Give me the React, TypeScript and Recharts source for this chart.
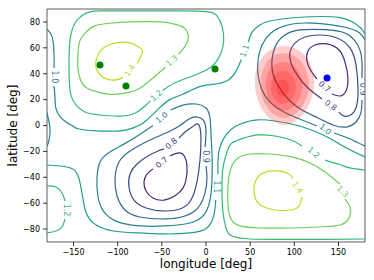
import { ScatterChart, Scatter, XAxis, YAxis, ReferenceArea } from "recharts";

const FONT = "DejaVu Sans, sans-serif";

// viridis colours for the contour levels (norm 0.6 .. 1.5)
const LEVEL_COLORS: Record<string, string> = {
  "0.7": "#482878",
  "0.8": "#3e4989",
  "0.9": "#31688e",
  "1.0": "#26828e",
  "1.1": "#1f9e89",
  "1.2": "#35b779",
  "1.3": "#6ece58",
  "1.4": "#b5de2b",
};

const X_TICKS = [-150, -100, -50, 0, 50, 100, 150];
const Y_TICKS = [-80, -60, -40, -20, 0, 20, 40, 60, 80];

type Pt = [number, number];

// contour paths, [lon, lat] (gaps are where labels sit)
const L14_NW: Pt[] = [[-78, 48], [-74, 53], [-72, 58], [-77, 61], [-87, 64], [-100, 64], [-111, 62], [-119, 58], [-123, 53], [-125, 47], [-122, 41], [-116, 37], [-105, 35], [-94, 37]];
const L13_NW: Pt[] = [[-31, 55], [-24, 61], [-20, 68], [-24, 75], [-34, 78], [-52, 80], [-86, 80], [-109, 79], [-126, 77], [-136, 72], [-143, 65], [-145, 54], [-145, 44], [-142, 35], [-135, 29], [-123, 26], [-109, 24], [-92, 25], [-77, 28], [-63, 35], [-46, 45]];
const L12_NW: Pt[] = [[-49, 27], [-35, 33], [-18, 37.5], [-7, 40.5], [7, 46], [16, 54.5], [20, 65], [18, 77], [12, 85], [1, 88], [-30, 88.5], [-63, 88.5], [-90, 88.5], [-120, 88.5], [-135, 87], [-146, 81.5], [-153, 70], [-155, 54.5], [-155, 39], [-153, 23.6], [-147, 15.8], [-137, 10.4], [-120, 8.1], [-97, 7.3], [-80, 9.7], [-69, 15.1], [-63, 19]];
const L11_N_A: Pt[] = [[-150.6, -0.4], [-143.8, -2.7], [-124.5, -4.2], [-110, -4.4], [-97, -4.2], [-83, -2], [-71, 2], [-61, 8], [-52, 14], [-41, 20], [-27, 24], [-7, 30], [10, 32], [25, 35], [34, 42], [40, 51]];
const L11_N_B: Pt[] = [[48, 64.5], [52, 72], [61, 77.6], [78, 81.5], [118, 84], [150, 83.5], [166, 80], [175, 75.5], [180, 71]];
const L11_S_A: Pt[] = [[-180, -30.5], [-165, -31.3], [-151, -33.6], [-144, -40.6], [-140, -53.7], [-136, -66.8], [-126, -76.1], [-105, -81.5], [-75, -83], [-46, -83.8], [-18, -83], [1, -79.2], [9, -69], [11, -57.6]];
const L11_S_B: Pt[] = [[13.6, -37.5], [13.6, -26.7], [15.8, -16.6], [22.6, -7.3], [34, -0.4], [55.5, 4.2], [78, 3.5], [106, -0.4], [135, -8.1], [157, -16.6], [180, -24.3]];
const L10_W_A: Pt[] = [[-180, 74.5], [-175.5, 70.7], [-173, 64.5], [-172, 54.5], [-172, 44.4]];
const L10_W_B: Pt[] = [[-172, 30.5], [-171, 22], [-170, 13.5], [-165, 6.6], [-158.5, 2.7], [-150.6, -0.4]];
const L10_W_C: Pt[] = [[-180, 10], [-177.5, 2], [-176.5, -5], [-178, -12], [-180, -16]];
const L10_E_A: Pt[] = [[180, 66], [174, 71.5], [160, 75.5], [140, 78], [112, 79.2], [89, 77], [73.6, 71.5], [63.4, 62.2], [59, 50.6], [59, 39], [63.4, 27.4], [72.4, 18.1], [88.3, 10.4], [108.7, 4.2], [125.7, -0.4]];
const L10_E_B: Pt[] = [[145, -5.8], [160.7, -9.7], [180, -16]];
const L10_SW: Pt[] = [[-40, 12], [-26, 15.8], [-11.3, 16.6], [0, 13.5], [4.5, 5.8], [5.7, -7.3], [6.8, -22.8], [6.8, -42.1], [4.5, -57.6], [-2.3, -69.1], [-18.1, -75.3], [-46.4, -77.6], [-74.7, -77.6], [-99.6, -74.5], [-115.5, -66.8], [-122.4, -54.5], [-123.4, -40.6], [-120, -28.2], [-110, -21], [-92, -14], [-75, -7], [-60, 0]];
const L09_SW: Pt[] = [[-1.1, -16.6], [0, -5], [-1.1, 1.5], [-4.5, 5], [-11.3, 6.6], [-19.2, 5], [-29.4, 0], [-43, -5], [-63.4, -11.2], [-86, -19.7], [-98.5, -28.2], [-103, -40.6], [-100.7, -54.5], [-91.7, -65.3], [-74.7, -70.7], [-46.4, -72.2], [-23.8, -69.9], [-9.1, -63.7], [-1.1, -52.1], [1.1, -40.6], [0, -31.3]];
const L08_SW: Pt[] = [[-30.6, -9.7], [-22.6, -4.5], [-15.8, -1.2], [-10.2, 1.2], [-6.8, -1.9], [-5.7, -11.2], [-6.8, -26.7], [-10.2, -43.6], [-17, -57.6], [-29.4, -64.5], [-48.7, -66], [-67.9, -63.7], [-81.5, -57.6], [-87.2, -47.5], [-86, -37.5], [-78.1, -29.7], [-65.7, -23.6], [-54.3, -19.7], [-47.5, -18.1]];
const L07_SW: Pt[] = [[-40.8, -23.6], [-29.4, -21.2], [-22.6, -26.7], [-21.5, -35.9], [-24.9, -46.7], [-34, -53.7], [-47.5, -57.6], [-60, -56], [-67.9, -50.6], [-70.2, -43.6], [-66.8, -37.5], [-60, -33.6]];
const L09_NE: Pt[] = [[176.6, 19.7], [175.5, 10.4], [169.8, 2.7], [158.5, -1.2], [143.8, 0.4], [126.8, 5.8], [108.7, 12], [94, 19.7], [82.6, 29.7], [75.8, 39.8], [74.7, 50.6], [79.2, 62.2], [89.4, 69.9], [106.4, 73.8], [134.7, 74], [157.3, 71.5], [168, 66], [174, 59], [176.6, 49.1], [176.6, 36.7]];
const L08_NE: Pt[] = [[131.3, 20.5], [115.5, 29], [104.1, 38.2], [96.2, 48.3], [95.1, 56.8], [100.7, 63.7], [112.1, 68.4], [129, 69.9], [148.3, 67.6], [163, 59.9], [169.8, 46.7], [172.1, 29], [170.9, 16.6], [165.3, 8.9], [156.2, 7.3], [150.6, 10.4]];
const L07_NE: Pt[] = [[142.6, 24.3], [151.7, 22.8], [158.5, 26.7], [160.7, 36.7], [157.3, 49.1], [150.6, 58.3], [137, 63], [123.4, 62.2], [115.5, 57.6], [114.3, 49.8], [118.9, 42.1], [125.7, 35.9]];
const L12_SE_A: Pt[] = [[134.7, -26.7], [152.8, -30.5], [163, -32.8], [180, -34.4]];
const L12_SE_B: Pt[] = [[108.7, -15.8], [96.2, -11.2], [78.1, -8.1], [58.9, -7.3], [43, -9.7], [29.4, -13.5], [23.8, -20.5], [19.2, -32.8], [18.1, -49.8], [19.2, -66.8], [22.6, -79.2], [29.4, -85.4], [49.8, -87.7], [78, -88], [106.4, -88], [140, -88], [180, -87.7]];
const L12_W_A: Pt[] = [[-180, -46.7], [-170, -47.5], [-163, -52.1], [-159.6, -58.3]];
const L12_W_B: Pt[] = [[-159.6, -72.2], [-163, -78.4], [-170, -81.5], [-180, -83]];
const L13_SE: Pt[] = [[151.7, -45.2], [134.7, -35.9], [117.7, -29], [97.4, -24.3], [72.4, -22], [49.8, -22], [36.2, -25.1], [28.3, -32.8], [24.9, -46], [24.9, -61.4], [28.3, -72.2], [38.5, -77.6], [61.1, -79.2], [95.1, -79.2], [129, -78.4], [151.7, -76.9], [161.9, -71.5], [163, -63], [157.3, -56.8]];
const L14_SE: Pt[] = [[108.7, -55.2], [105.3, -62.2], [95.1, -65.3], [78.1, -65.3], [63.4, -62.2], [56.6, -57.6], [54.3, -49.8], [56.6, -42.1], [64.5, -36.7], [78.1, -35.1], [91.7, -36.7], [98.5, -40.6]];

const CONTOURS: { level: string; pts: Pt[] }[] = [
  { level: "1.4", pts: L14_NW },
  { level: "1.3", pts: L13_NW },
  { level: "1.2", pts: L12_NW },
  { level: "1.1", pts: L11_N_A },
  { level: "1.1", pts: L11_N_B },
  { level: "1.1", pts: L11_S_A },
  { level: "1.1", pts: L11_S_B },
  { level: "1.0", pts: L10_W_A },
  { level: "1.0", pts: L10_W_B },
  { level: "1.0", pts: L10_W_C },
  { level: "1.0", pts: L10_E_A },
  { level: "1.0", pts: L10_E_B },
  { level: "1.0", pts: L10_SW },
  { level: "0.9", pts: L09_SW },
  { level: "0.8", pts: L08_SW },
  { level: "0.7", pts: L07_SW },
  { level: "0.9", pts: L09_NE },
  { level: "0.8", pts: L08_NE },
  { level: "0.7", pts: L07_NE },
  { level: "1.2", pts: L12_SE_A },
  { level: "1.2", pts: L12_SE_B },
  { level: "1.2", pts: L12_W_A },
  { level: "1.2", pts: L12_W_B },
  { level: "1.3", pts: L13_SE },
  { level: "1.4", pts: L14_SE },
];

// inline contour labels
const LABEL_TEXT = ["1.4", "1.3", "1.2", "1.1", "1.0", "1.0", "0.9", "0.8", "0.7", "1.1", "0.9", "0.8", "0.7", "1.0", "1.2", "1.3", "1.4", "1.2"];
const LABEL_LON = [-86, -38.5, -56, 44, -172, -50, -0.5, -39, -50, 12.3, 177, 141, 134, 135, 121.7, 154.5, 103.6, -158];
const LABEL_LAT = [42.5, 50, 23, 57.7, 37.5, 6, -24, -14, -28.6, -47.5, 28, 15.5, 30, -3, -21, -51, -48, -65.3];
const LABEL_ANGLE = [-55, -40, -40, -70, 90, -40, 90, -40, -40, 90, 90, 35, 40, 40, 40, 45, 55, 90];

// red blob, nested layers (outer to inner)
const BLOB_1: Pt[] = [[89, 64.3], [115.6, 55.4], [126.7, 33.2], [113.4, 7.7], [88.9, -2.9], [63.4, 7.7], [51.8, 33.2], [61.2, 55.4]];
const BLOB_2: Pt[] = [[88, 58.2], [110.8, 50.9], [119.9, 30], [108.9, 11.8], [88, 3.1], [68, 11.8], [58.9, 30], [66.2, 50.9]];
const BLOB_3: Pt[] = [[87.5, 50.9], [104.7, 45.4], [111.7, 29.5], [103.4, 15.7], [87.5, 9.1], [72.3, 15.7], [65.5, 29.5], [70.9, 45.4]];
const BLOB_4: Pt[] = [[87, 43.6], [98.8, 39.8], [103.5, 29], [97.8, 19.6], [87, 15.1], [76.7, 19.6], [72, 29], [75.7, 39.8]];
const BLOB_5: Pt[] = [[86.5, 35.9], [92.5, 34], [94.9, 28.5], [92, 23.7], [86.5, 21.4], [81.2, 23.7], [78.8, 28.5], [80.7, 34]];
const BLOBS = [BLOB_1, BLOB_2, BLOB_3, BLOB_4, BLOB_5];

const GREEN_POINTS: Pt[] = [[-120, 46.7], [-90.6, 30.5], [10.2, 43.6]];
const BLUE_POINTS: Pt[] = [[137, 36.7]];

const toXY = (pts: Pt[]) => pts.map(([x, y]) => ({ x, y }));
const fmt = (v: number) => (v < 0 ? `\u2212${-v}` : `${v}`);

const NoDot = () => <g />;

const labelData = LABEL_TEXT.map((text, i) => ({
  x: LABEL_LON[i],
  y: LABEL_LAT[i],
  text,
  angle: LABEL_ANGLE[i],
}));

function ContourLabel(props: any) {
  const { cx, cy, payload } = props;
  return (
    <text
      x={cx}
      y={cy}
      transform={`rotate(${payload.angle} ${cx} ${cy})`}
      textAnchor="middle"
      dominantBaseline="central"
      fontSize={8}
      fontFamily={FONT}
      fill={LEVEL_COLORS[payload.text]}
    >
      {payload.text}
    </text>
  );
}

const GreenDot = (props: any) => <circle cx={props.cx} cy={props.cy} r={3.5} fill="#008000" />;
const BlueDot = (props: any) => <circle cx={props.cx} cy={props.cy} r={3.5} fill="#0000ff" />;

export default function App() {
  return (
    <div style={{ position: "absolute", left: 0, top: 0, background: "#fff" }}>
      <ScatterChart width={374} height={280} margin={{ top: 9, right: 9, bottom: 0, left: 0 }}>
        <XAxis
          type="number"
          dataKey="x"
          domain={[-180, 180]}
          ticks={X_TICKS}
          interval={0}
          allowDataOverflow
          height={38}
          tickSize={4}
          tickMargin={3}
          axisLine={false}
          tickLine={{ stroke: "#000", strokeWidth: 0.8 }}
          tick={{ fontSize: 8, fill: "#000", fontFamily: FONT }}
          tickFormatter={fmt}
          label={{ value: "longitude [deg]", position: "insideBottom", offset: 12, fill: "#000", fontSize: 12, fontFamily: FONT }}
        />
        <YAxis
          type="number"
          dataKey="y"
          domain={[-90, 90]}
          ticks={Y_TICKS}
          interval={0}
          allowDataOverflow
          width={47}
          tickSize={4}
          tickMargin={3}
          axisLine={false}
          tickLine={{ stroke: "#000", strokeWidth: 0.8 }}
          tick={{ fontSize: 8, fill: "#000", fontFamily: FONT }}
          tickFormatter={fmt}
          label={{ value: "latitude [deg]", angle: -90, position: "insideLeft", offset: 13, textAnchor: "middle", fill: "#000", fontSize: 12, fontFamily: FONT }}
        />
        {CONTOURS.map((c, i) => (
          <Scatter
            key={`c-${i}`}
            data={toXY(c.pts)}
            line={{ stroke: LEVEL_COLORS[c.level], strokeWidth: 1.2 }}
            lineJointType="natural"
            shape={NoDot}
            isAnimationActive={false}
          />
        ))}
        {BLOBS.map((b, i) => (
          <Scatter
            key={`b-${i}`}
            data={toXY(b)}
            line={{ fill: "#ff0000", fillOpacity: 0.2, stroke: "none" }}
            lineJointType="basisClosed"
            shape={NoDot}
            isAnimationActive={false}
          />
        ))}
        <Scatter data={labelData} shape={ContourLabel} isAnimationActive={false} />
        <Scatter data={toXY(GREEN_POINTS)} shape={GreenDot} isAnimationActive={false} />
        <Scatter data={toXY(BLUE_POINTS)} shape={BlueDot} isAnimationActive={false} />
        <ReferenceArea x1={-180} x2={180} y1={-90} y2={90} fill="none" stroke="#333" strokeWidth={0.8} ifOverflow="visible" />
      </ScatterChart>
    </div>
  );
}
